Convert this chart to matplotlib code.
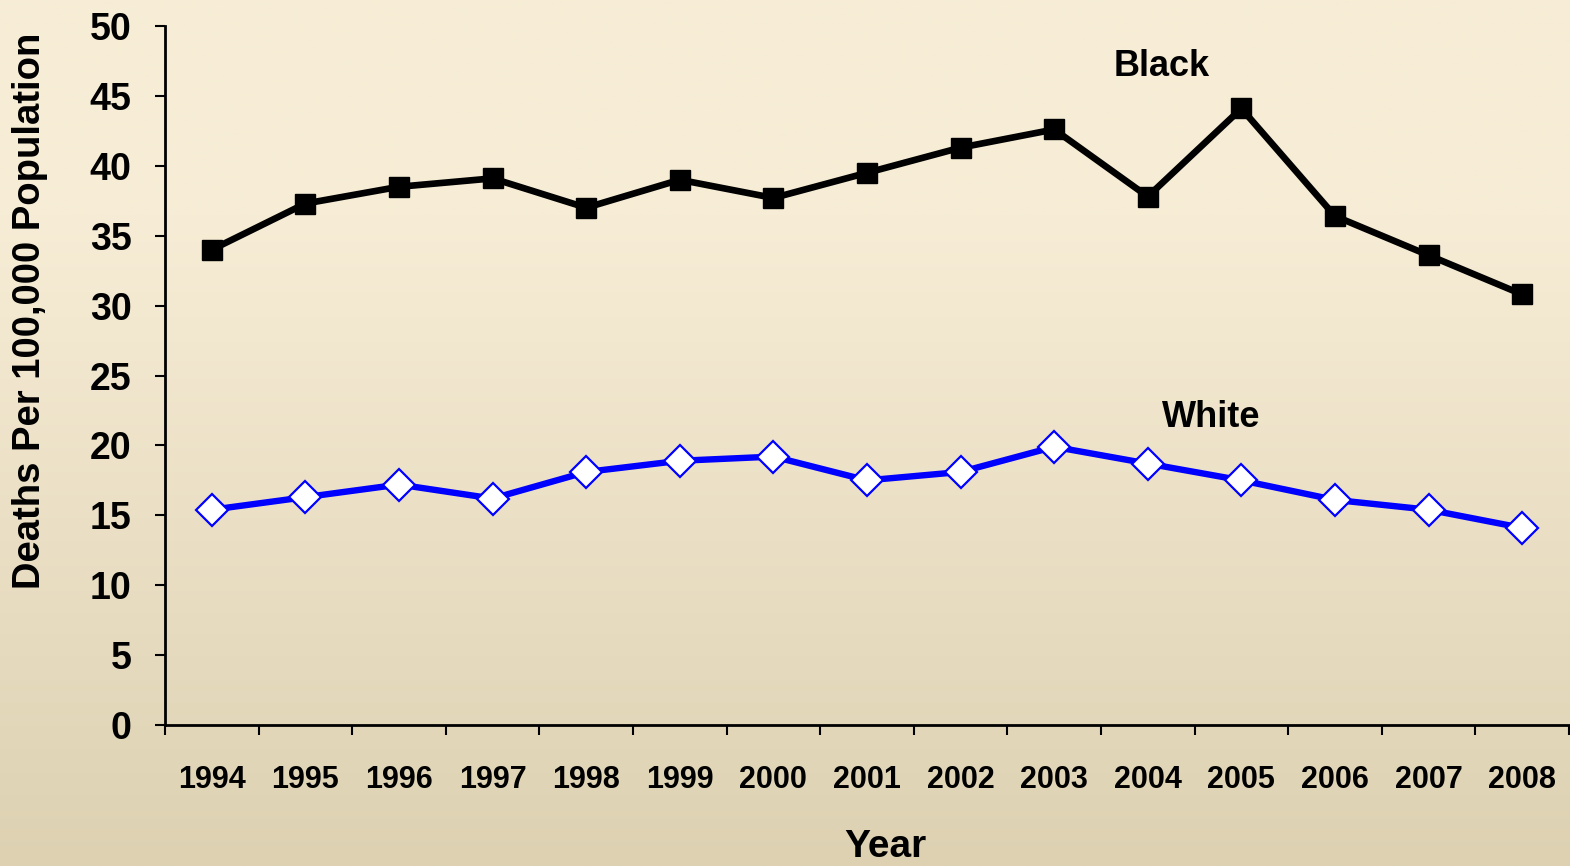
import numpy as np
import matplotlib
matplotlib.use("Agg")
import matplotlib.pyplot as plt

years = ["1994", "1995", "1996", "1997", "1998", "1999", "2000", "2001",
         "2002", "2003", "2004", "2005", "2006", "2007", "2008"]
black = [34.0, 37.3, 38.5, 39.1, 37.0, 39.0, 37.7, 39.5,
         41.3, 42.6, 37.8, 44.1, 36.4, 33.6, 30.8]
white = [15.4, 16.3, 17.2, 16.2, 18.1, 18.9, 19.2, 17.5,
         18.1, 19.9, 18.7, 17.5, 16.1, 15.4, 14.1]

plt.rcParams['font.family'] = ['Liberation Sans', 'DejaVu Sans']
plt.rcParams['font.weight'] = 'bold'

W, H = 1570, 866
fig = plt.figure(figsize=(W / 100, H / 100), dpi=100)

# background gradient, light cream at the top to tan at the bottom
bg = fig.add_axes([0, 0, 1, 1], zorder=-10)
t = np.linspace(0, 1, 400)[:, None]
top = np.array([247, 237, 214]) / 255
bot = np.array([221, 209, 178]) / 255
w = np.clip((t - 0.25) / 0.75, 0, 1)
grad = top * (1 - w[..., None]) + bot * w[..., None]
grad = np.repeat(grad, 2, axis=1)
bg.imshow(grad, aspect='auto', extent=[0, 1, 0, 1], origin='upper')
bg.axis('off')

ax = fig.add_axes([165 / W, 1 - 725 / H, (1569 - 165) / W, (725 - 26) / H])
ax.patch.set_alpha(0)

x = np.arange(len(years))
ax.plot(x, black, '-s', color='black', lw=4.8, ms=15, mec='black', mfc='black')
ax.plot(x, white, '-D', color='#0000FF', lw=4.6, ms=16.5, mec='#0000FF',
        mfc='white', mew=1.6)

ax.set_xlim(-0.5, len(years) - 0.5)
ax.set_ylim(0, 50)
ax.set_yticks(np.arange(0, 51, 5))
ax.tick_params(axis='y', length=7, width=1.5, pad=17, labelsize=27)

ax.set_xticks(np.arange(-0.5, len(years), 1))
ax.set_xticklabels([])
ax.set_xticks(x, minor=True)
ax.set_xticklabels(years, minor=True)
ax.tick_params(axis='x', which='major', length=7, width=1.5)
ax.tick_params(axis='x', which='minor', length=0, pad=29, labelsize=22)

for s in ['top', 'right']:
    ax.spines[s].set_visible(False)
for s in ['left', 'bottom']:
    ax.spines[s].set_linewidth(2)

ax.text(10.15, 47.1, "Black", fontsize=26, ha='center', va='center')
ax.text(10.68, 22.0, "White", fontsize=26, ha='center', va='center')

fig.text(885 / W, 1 - 847 / H, "Year", fontsize=28, ha='center', va='center')
fig.text(30 / W, 1 - 311 / H, "Deaths Per 100,000 Population", fontsize=27.5,
         rotation=90, ha='center', va='center')

fig.savefig("out.png", dpi=100)
